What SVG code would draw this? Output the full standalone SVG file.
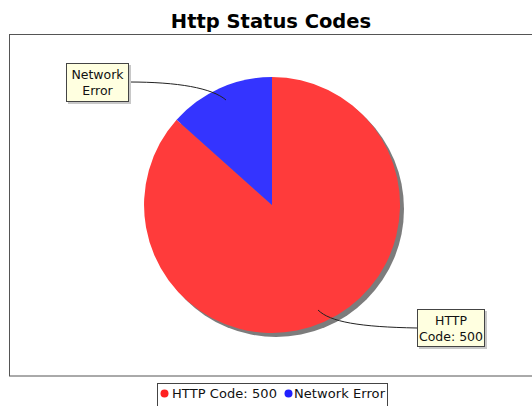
<svg xmlns="http://www.w3.org/2000/svg" width="532" height="406" viewBox="0 0 532 406">
<style>
.lbl{font-family:"DejaVu Sans",Verdana,sans-serif;font-size:12.5px;fill:#111;text-anchor:middle}
.box{fill:#ffffe0;stroke:#444;stroke-width:1}
.shd{fill:#c8c8c8}
.link{fill:none;stroke:#222;stroke-width:1}
.leg{font-family:"DejaVu Sans",Verdana,sans-serif;font-size:13px;fill:#111}
</style>
<rect x="0" y="0" width="532" height="406" fill="#fff"/>
<text x="271" y="27.5" font-family="DejaVu Sans, Verdana, sans-serif" font-weight="bold" font-size="19.5" text-anchor="middle" fill="#000">Http Status Codes</text>
<rect x="9.5" y="34.5" width="530" height="341.5" fill="#fff" stroke="#555" stroke-width="1"/>
<g id="pie">
<circle cx="276" cy="209" r="128" fill="#7c7c7c"/>
<path id="slice-http" d="M272,205 L272,77 A128,128 0 1 1 176.6,119.7 Z" fill="#ff3b3b"/>
<path id="slice-network" d="M272,205 L176.6,119.7 A128,128 0 0 1 272,77 Z" fill="#3434ff"/>
</g>
<g id="connectors">
<path class="link" d="M129,82 C178,82 212,88 226,100"/>
<path class="link" d="M417,328 C360,327 330,322 318,310"/>
</g>
<g id="label-network">
<rect class="shd" x="68" y="65" width="63" height="39"/>
<rect class="box" x="66.5" y="63.5" width="62" height="38"/>
<text class="lbl" x="97.5" y="79">Network</text>
<text class="lbl" x="97.5" y="95">Error</text>
</g>
<g id="label-http">
<rect class="shd" x="419" y="311" width="68" height="38"/>
<rect class="box" x="417.5" y="309.5" width="67" height="37"/>
<text class="lbl" x="451" y="325">HTTP</text>
<text class="lbl" x="451" y="341">Code: 500</text>
</g>
<g id="legend">
<rect x="157.5" y="383.5" width="230" height="30" fill="#fff" stroke="#444" stroke-width="1"/>
<circle cx="164.5" cy="393.5" r="4" fill="#ff2020"/>
<text class="leg" x="172" y="398" textLength="105">HTTP Code: 500</text>
<circle cx="288.5" cy="393.5" r="4" fill="#2020ff"/>
<text class="leg" x="294" y="398" textLength="91">Network Error</text>
</g>
</svg>
